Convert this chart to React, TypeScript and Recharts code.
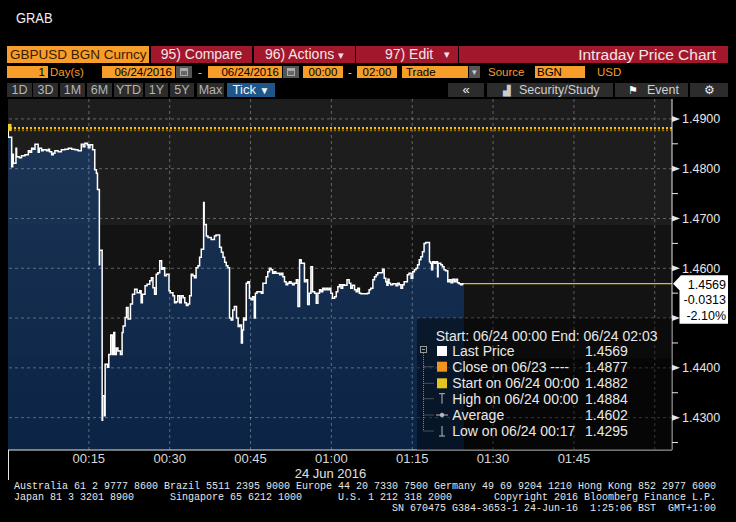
import React from "react";
import {
  ComposedChart,
  Area,
  XAxis,
  YAxis,
  CartesianGrid,
  ReferenceLine,
  ReferenceDot,
} from "recharts";

const FONT = "'Liberation Sans', Arial, Helvetica, sans-serif";
const MONO = "'Liberation Mono', 'DejaVu Sans Mono', monospace";

// GBPUSD ticks, minutes after 00:00 on 24 Jun 2016 (step data)
const tickMinutes = [
  0, 0.05, 0.68, 0.87, 0.99, 1.48, 1.6, 2.1, 2.5, 3.15,
  3.77, 4.07, 4.38, 4.69, 5.0, 5.6, 5.8, 6.24, 6.5, 7.16,
  7.5, 7.7, 8.1, 8.4, 8.7, 9.3, 9.9, 10.55, 11.2, 11.8,
  12.4, 13.0, 13.6, 13.95, 14.26, 14.7, 14.9, 15.2, 15.7, 16.1,
  16.4, 16.6, 16.95, 17.0, 17.47, 17.55, 17.9, 18.02, 18.46, 18.7,
  19.07, 19.38, 19.63, 19.8, 20.1, 20.4, 20.86, 21.17, 21.36, 21.73,
  21.98, 22.28, 22.72, 23.09, 23.5, 23.95, 24.44, 24.7, 24.93, 25.43,
  25.8, 26.3, 26.6, 26.9, 27.2, 27.5, 27.8, 28.15, 28.5, 28.77,
  29.07, 29.4, 29.87, 30.1, 30.6, 30.9, 31.2, 31.5, 31.85, 32.15,
  32.5, 32.8, 33.1, 33.4, 33.7, 34.0, 34.3, 34.6, 34.9, 35.25,
  35.55, 35.86, 36.3, 36.4, 36.8, 37.1, 37.7, 38.3, 38.6, 39.26,
  39.6, 39.9, 40.2, 40.5, 40.8, 41.1, 41.4, 41.7, 42.0, 42.4,
  42.7, 43.0, 43.3, 43.5, 43.7, 43.9, 44.2, 44.5, 44.8, 45.1,
  45.4, 45.7, 45.9, 46.2, 47.0, 47.3, 47.9, 48.2, 48.5, 48.8,
  49.1, 49.4, 49.7, 50.4, 50.7, 51.0, 51.3, 51.6, 51.9, 52.2,
  52.5, 52.8, 53.1, 53.5, 53.8, 54.1, 54.4, 55.0, 55.3, 55.6,
  55.9, 56.2, 56.5, 56.9, 57.2, 57.5, 57.8, 58.1, 58.4, 58.7,
  59.0, 59.3, 59.6, 59.9, 60.2, 60.6, 60.9, 61.2, 61.5, 61.8,
  62.1, 62.4, 62.9, 63.3, 63.6, 63.9, 64.3, 64.6, 64.9, 65.2,
  65.5, 66.7, 67.0, 67.3, 67.7, 68.0, 68.3, 68.6, 69.5, 69.8,
  70.1, 70.3, 70.5, 70.7, 71.0, 71.4, 72.0, 72.3, 72.6, 72.9,
  73.2, 73.5, 74.1, 74.4, 74.8, 75.1, 75.4, 75.7, 76.0, 76.3,
  76.6, 76.9, 77.2, 77.5, 78.2, 78.4, 78.6, 78.8, 79.1, 79.4,
  79.7, 79.8, 80.3, 80.6, 80.9, 81.2, 81.6, 81.9, 82.2, 82.5,
  82.8, 83.1, 83.4, 83.7, 84.0, 84.3, 84.6,
];

const tickPrices = [
  1.4882, 1.4863, 1.4804, 1.4829, 1.4811, 1.4841, 1.4824, 1.4822, 1.4826, 1.4828,
  1.4836, 1.4833, 1.4841, 1.4839, 1.4849, 1.4833, 1.4841, 1.4836, 1.4838, 1.4836,
  1.4839, 1.4834, 1.4828, 1.4831, 1.4836, 1.4834, 1.4838, 1.4839, 1.4841, 1.4839,
  1.4838, 1.4836, 1.4849, 1.4844, 1.4851, 1.4848, 1.4842, 1.4848, 1.4838, 1.4798,
  1.4791, 1.4758, 1.4607, 1.4636, 1.4295, 1.4344, 1.4304, 1.4407, 1.4401, 1.4427,
  1.4466, 1.4427, 1.4471, 1.4427, 1.444, 1.4434, 1.4427, 1.4471, 1.4484, 1.4501,
  1.4521, 1.4498, 1.4528, 1.4548, 1.4558, 1.4551, 1.4555, 1.4531, 1.4548, 1.4565,
  1.4568, 1.4575, 1.4581, 1.4561, 1.4548, 1.4588, 1.4591, 1.4615, 1.4598, 1.4601,
  1.4585, 1.4588, 1.4555, 1.4551, 1.4545, 1.4531, 1.4533, 1.4545, 1.4531, 1.4545,
  1.4541, 1.4531, 1.4525, 1.4528, 1.4545, 1.4588, 1.4585, 1.4581, 1.4601, 1.4605,
  1.4622, 1.4638, 1.4732, 1.4688, 1.4665, 1.4662, 1.4658, 1.4665, 1.4667, 1.4642,
  1.4632, 1.4622, 1.4612, 1.4605, 1.4601, 1.45, 1.4496, 1.4516, 1.4523, 1.45,
  1.4483, 1.4486, 1.445, 1.4476, 1.45, 1.4496, 1.457, 1.4573, 1.454, 1.4537,
  1.4543, 1.45, 1.455, 1.4553, 1.455, 1.457, 1.4583, 1.4593, 1.46, 1.4597,
  1.459, 1.4593, 1.459, 1.4587, 1.459, 1.4583, 1.4573, 1.4567, 1.457, 1.4573,
  1.457, 1.4567, 1.457, 1.4577, 1.4523, 1.4617, 1.461, 1.4573, 1.4577, 1.4527,
  1.455, 1.4603, 1.4553, 1.455, 1.453, 1.455, 1.4557, 1.4553, 1.456, 1.4557,
  1.456, 1.4557, 1.456, 1.455, 1.454, 1.4543, 1.4553, 1.4563, 1.4567, 1.456,
  1.4567, 1.4566, 1.4577, 1.457, 1.456, 1.4566, 1.4557, 1.4553, 1.456, 1.455,
  1.4549, 1.455, 1.4557, 1.456, 1.4577, 1.4583, 1.4587, 1.4591, 1.4598, 1.458,
  1.4573, 1.4566, 1.4578, 1.457, 1.4567, 1.4569, 1.4565, 1.457, 1.4567, 1.456,
  1.4567, 1.4573, 1.4587, 1.459, 1.458, 1.4593, 1.4597, 1.46, 1.4607, 1.4617,
  1.4623, 1.4633, 1.465, 1.4652, 1.4613, 1.461, 1.4597, 1.4613, 1.461, 1.4613,
  1.4583, 1.461, 1.4607, 1.4603, 1.4597, 1.4595, 1.4573, 1.4577, 1.4571, 1.4578,
  1.4573, 1.4578, 1.4571, 1.4569, 1.4567, 1.4569, 1.4569,
];

const startPrice = 1.4882;
const prevClose = 1.4877;
const lastPrice = 1.4569;
const lastChange = "-0.0313";
const lastChangePct = "-2.10%";
const lastTickMinute = 84.6;
const sessionEnd = 123.2;

const timeTicks = [15, 30, 45, 60, 75, 90, 105, 120];
const timeLabels = ["00:15", "00:30", "00:45", "01:00", "01:15", "01:30", "01:45", ""];
const priceTicks = [
  1.425, 1.43, 1.435, 1.44, 1.445, 1.45, 1.455, 1.46, 1.465, 1.47, 1.475, 1.48, 1.485, 1.49,
];
const gridPrices = [1.43, 1.44, 1.45, 1.46, 1.47, 1.48, 1.49];

const legendLabels = [
  "Last Price",
  "Close on 06/23",
  "Start on 06/24 00:00",
  "High on 06/24 00:00",
  "Average",
  "Low on 06/24 00:17",
];
const legendValues = [1.4569, 1.4877, 1.4882, 1.4884, 1.4602, 1.4295];

const footerLines = [
  "Australia 61 2 9777 8600 Brazil 5511 2395 9000 Europe 44 20 7330 7500 Germany 49 69 9204 1210 Hong Kong 852 2977 6000",
  "Japan 81 3 3201 8900      Singapore 65 6212 1000      U.S. 1 212 318 2000       Copyright 2016 Bloomberg Finance L.P.",
  "                                                               SN 670475 G384-3653-1 24-Jun-16  1:25:06 BST  GMT+1:00",
];

const series = tickMinutes.map((m, i) => ({ m, p: tickPrices[i] }));

const ORANGE = "#f79d2a";
const RED = "#a3172c";
const GRID = "rgba(200,200,200,0.42)";

function PriceTick(props: any) {
  const { x, y, payload } = props;
  const v = Math.round(payload.value * 10000);
  if (v % 100 !== 0) {
    return <line x1={x} x2={x + 6} y1={y} y2={y} stroke="#e6e6e6" strokeWidth={1} />;
  }
  return (
    <g>
      <polygon points={`${x},${y - 3} ${x + 8},${y} ${x},${y + 3}`} fill="#e6e6e6" />
      {v !== 14500 && (
        <text x={x + 10} y={y} dy="0.36em" fill="#e6e6e6" fontSize={12.5} fontFamily={FONT}>
          {(v / 10000).toFixed(4)}
        </text>
      )}
    </g>
  );
}

function LastTag(props: any) {
  const vb = props.viewBox || {};
  const x = (vb.x ?? 0) + (vb.width ?? 0);
  const y = vb.y ?? 0;
  const pts = [
    [x + 1, y],
    [x + 9, y - 8.5],
    [x + 56, y - 8.5],
    [x + 56, y + 40],
    [x + 7.5, y + 40],
    [x + 7.5, y + 6.5],
  ]
    .map((p) => p.join(","))
    .join(" ");
  const t = { textAnchor: "end" as const, fill: "#000", fontSize: 12.5, fontFamily: FONT };
  return (
    <g>
      <polygon points={pts} fill="#ffffff" />
      <text x={x + 54} y={y + 5.3} {...t}>
        {lastPrice.toFixed(4)}
      </text>
      <text x={x + 54} y={y + 20.3} {...t}>
        {lastChange}
      </text>
      <text x={x + 54} y={y + 36} {...t}>
        {lastChangePct}
      </text>
    </g>
  );
}

function PriceChart() {
  return (
    <ComposedChart
      width={736}
      height={522}
      data={series}
      margin={{ top: 99, right: 0, bottom: 47, left: 8 }}
      style={{ position: "absolute", left: 0, top: 0 }}
    >
      <defs>
        <linearGradient id="plotBg" x1="0" y1="0" x2="0" y2="1">
          <stop offset="0" stopColor="#1d1d1d" />
          <stop offset="0.359" stopColor="#1d1d1d" />
          <stop offset="0.359" stopColor="#131313" />
          <stop offset="0.738" stopColor="#131313" />
          <stop offset="0.738" stopColor="#0b0b0b" />
          <stop offset="1" stopColor="#0b0b0b" />
        </linearGradient>
        <linearGradient id="areaFill" x1="0" y1="0" x2="0" y2="1">
          <stop offset="0" stopColor="#1c385e" />
          <stop offset="1" stopColor="#0b284f" />
        </linearGradient>
      </defs>
      <CartesianGrid horizontal={false} vertical={false} fill="url(#plotBg)" />
      <XAxis
        dataKey="m"
        type="number"
        domain={[0, sessionEnd]}
        ticks={timeTicks}
        interval={0}
        allowDataOverflow
        tickFormatter={(v: number) => timeLabels[timeTicks.indexOf(v)] ?? ""}
        axisLine={{ stroke: "#e6e6e6" }}
        tickLine={false}
        tickSize={0}
        tickMargin={4}
        height={25}
        tick={{ fill: "#d8d8d8", fontSize: 13, fontFamily: FONT }}
      />
      <YAxis
        orientation="right"
        type="number"
        domain={[1.4235, 1.494]}
        ticks={priceTicks}
        interval={0}
        allowDataOverflow
        width={64}
        axisLine={{ stroke: "#e6e6e6" }}
        tickLine={false}
        tickSize={0}
        tickMargin={0}
        tick={(p: any) => <PriceTick {...p} />}
      />
      <Area
        type="stepAfter"
        dataKey="p"
        stroke="#ffffff"
        strokeWidth={1.5}
        fill="url(#areaFill)"
        fillOpacity={0.86}
        dot={false}
        activeDot={false}
        isAnimationActive={false}
      />
      {gridPrices.map((v) => (
        <ReferenceLine key={`gy${v}`} y={v} stroke={GRID} strokeDasharray="3 3" />
      ))}
      {timeTicks.map((v) => (
        <ReferenceLine key={`gx${v}`} x={v} stroke={GRID} strokeDasharray="3 3" />
      ))}
      <ReferenceLine y={prevClose} stroke="#a0601a" strokeWidth={2} strokeDasharray="2 2" />
      <ReferenceLine y={startPrice} stroke="#e6c31d" strokeWidth={2} strokeDasharray="2 2" />
      <ReferenceDot
        x={0}
        y={startPrice}
        r={3}
        isFront
        shape={(p: any) => (
          <rect x={p.cx} y={p.cy - 4} width={3.5} height={7} fill="#f0d028" />
        )}
      />
      <ReferenceLine
        segment={[
          { x: lastTickMinute, y: lastPrice },
          { x: sessionEnd, y: lastPrice },
        ]}
        stroke="#f0b825"
        strokeWidth={1.3}
        label={<LastTag />}
      />
    </ComposedChart>
  );
}

function Chip(props: {
  l: number;
  t: number;
  w: number;
  h: number;
  bg?: string;
  color?: string;
  size?: number;
  align?: "left" | "right" | "center";
  pad?: number;
  children?: React.ReactNode;
}) {
  const { l, t, w, h, bg = "transparent", color = "#fff", size = 13, align = "center", pad = 0 } = props;
  return (
    <div
      style={{
        position: "absolute",
        left: l,
        top: t,
        width: w,
        height: h,
        background: bg,
        color,
        fontSize: size,
        lineHeight: `${h}px`,
        textAlign: align,
        padding: `0 ${pad}px`,
        boxSizing: "border-box",
        whiteSpace: "nowrap",
        fontFamily: FONT,
      }}
    >
      {props.children}
    </div>
  );
}

function CalIcon({ l, t }: { l: number; t: number }) {
  return (
    <div style={{ position: "absolute", left: l, top: t, width: 16, height: 12, background: "#555" }}>
      <div style={{ position: "absolute", left: 4, top: 2, width: 8, height: 8, background: "#aaa" }} />
      <div style={{ position: "absolute", left: 5, top: 5, width: 6, height: 4, background: "#666" }} />
    </div>
  );
}

function Toolbar() {
  const r1 = 46;
  const r2 = 66;
  const r3 = 83;
  const h2 = 12;
  const btn = "#2c2c2c";
  const btnText = "#b4b4b4";
  return (
    <>
      <div
        style={{
          position: "absolute",
          left: 16,
          top: 10,
          fontSize: 15,
          lineHeight: "16px",
          color: "#f0f0f0",
          fontFamily: FONT,
          transform: "scaleX(0.86)",
          transformOrigin: "left",
        }}
      >
        GRAB
      </div>

      <Chip l={7} t={r1} w={142} h={17} bg={ORANGE} color="#3a1a00" size={13.5} align="left" pad={3}>
        GBPUSD BGN Curncy
      </Chip>
      <Chip l={151} t={r1} w={101} h={17} bg={RED} color="#f2e6e6" size={14}>
        95) Compare
      </Chip>
      <Chip l={254} t={r1} w={101} h={17} bg={RED} color="#f2e6e6" size={14}>
        96) Actions <span style={{ fontSize: 11 }}>▾</span>
      </Chip>
      <Chip l={356} t={r1} w={102} h={17} bg={RED} color="#f2e6e6" size={14} align="left" pad={29}>
        97) Edit
      </Chip>
      <Chip l={440} t={r1} w={14} h={17} color="#f2e6e6" size={11}>
        ▾
      </Chip>
      <Chip l={459} t={r1} w={269} h={17} bg={RED} color="#f2e6e6" size={15.5} align="right" pad={12}>
        Intraday Price Chart
      </Chip>

      <Chip l={7} t={r2} w={41} h={h2} bg={ORANGE} color="#000" size={11.5} align="right" pad={3}>
        1
      </Chip>
      <Chip l={50} t={r2} w={44} h={h2} color={ORANGE} size={11.5} align="left">
        Day(s)
      </Chip>
      <Chip l={102} t={r2} w={73} h={h2} bg={ORANGE} color="#000" size={11.5} align="right" pad={3}>
        06/24/2016
      </Chip>
      <CalIcon l={176} t={r2} />
      <Chip l={194} t={r2} w={12} h={h2} color="#ddd" size={11.5}>
        -
      </Chip>
      <Chip l={208} t={r2} w={74} h={h2} bg={ORANGE} color="#000" size={11.5} align="right" pad={3}>
        06/24/2016
      </Chip>
      <CalIcon l={283} t={r2} />
      <Chip l={303} t={r2} w={40} h={h2} bg={ORANGE} color="#000" size={11.5}>
        00:00
      </Chip>
      <Chip l={344} t={r2} w={12} h={h2} color="#ddd" size={11.5}>
        -
      </Chip>
      <Chip l={357} t={r2} w={40} h={h2} bg={ORANGE} color="#000" size={11.5}>
        02:00
      </Chip>
      <Chip l={402} t={r2} w={66} h={h2} bg={ORANGE} color="#000" size={11.5} align="left" pad={4}>
        Trade
      </Chip>
      <Chip l={469} t={r2} w={11} h={h2} bg="#555" color="#ccc" size={9}>
        ▾
      </Chip>
      <Chip l={488} t={r2} w={40} h={h2} color={ORANGE} size={11.5} align="left">
        Source
      </Chip>
      <Chip l={535} t={r2} w={50} h={h2} bg={ORANGE} color="#000" size={11.5} align="left" pad={2}>
        BGN
      </Chip>
      <Chip l={597} t={r2} w={30} h={h2} color={ORANGE} size={11.5} align="left">
        USD
      </Chip>

      {[
        ["1D", 7, 25],
        ["3D", 33, 25],
        ["1M", 60, 25],
        ["6M", 87, 25],
        ["YTD", 114, 29],
        ["1Y", 145, 23],
        ["5Y", 170, 24],
        ["Max", 197, 27],
      ].map(([txt, l, w]) => (
        <Chip key={txt as string} l={l as number} t={r3} w={w as number} h={14} bg={btn} color={btnText} size={12.5}>
          {txt}
        </Chip>
      ))}
      <Chip l={227} t={r3} w={48} h={14} bg="#1f5689" color="#f4f4f4" size={13}>
        Tick <span style={{ fontSize: 10 }}>▼</span>
      </Chip>
      <Chip l={448} t={r3} w={36} h={14} bg={btn} color="#eee" size={13}>
        «
      </Chip>
      <Chip l={487} t={r3} w={126} h={14} bg={btn} color="#d0d0d0" size={12.5} align="left" pad={16}>
        <span style={{ fontSize: 10, color: "#ccc", marginRight: 8 }}>▟</span>Security/Study
      </Chip>
      <Chip l={615} t={r3} w={73} h={14} bg={btn} color="#d0d0d0" size={12.5} align="left" pad={13}>
        <span style={{ fontSize: 11, color: "#fff", marginRight: 9 }}>⚑</span>Event
      </Chip>
      <Chip l={690} t={r3} w={38} h={14} bg={btn} color="#e6e6e6" size={12}>
        ⚙
      </Chip>
    </>
  );
}

function InfoPanel() {
  const rows = [33, 48.7, 65.3, 80.7, 97, 113];
  const txt = { fill: "#e8e8e8", fontSize: 14, fontFamily: FONT };
  const icon = (i: number, cy: number) => {
    if (i === 0) return <rect x={20} y={cy - 5} width={10} height={10} fill="#ffffff" />;
    if (i === 1) return <rect x={20} y={cy - 5} width={10} height={10} fill="#f0961e" />;
    if (i === 2) return <rect x={20} y={cy - 5} width={10} height={10} fill="#e6c31d" />;
    if (i === 3)
      return (
        <g stroke="#bbb" strokeWidth={1}>
          <line x1={25} x2={25} y1={cy - 5} y2={cy + 5} />
          <line x1={22} x2={28} y1={cy - 5} y2={cy - 5} />
        </g>
      );
    if (i === 4)
      return (
        <g stroke="#bbb" strokeWidth={1}>
          <line x1={19} x2={31} y1={cy} y2={cy} />
          <circle cx={25} cy={cy} r={1.8} fill="#bbb" />
        </g>
      );
    return (
      <g stroke="#bbb" strokeWidth={1}>
        <line x1={25} x2={25} y1={cy - 5} y2={cy + 5} />
        <line x1={22} x2={28} y1={cy + 5} y2={cy + 5} />
      </g>
    );
  };
  return (
    <svg
      width={255}
      height={132}
      style={{ position: "absolute", left: 417, top: 318 }}
    >
      <rect width={255} height={132} fill="rgba(0,0,0,0.42)" />
      <text x={18.7} y={22.8} {...txt}>
        Start: 06/24 00:00 End: 06/24 02:03
      </text>
      <rect x={3.5} y={28.5} width={6} height={6} fill="none" stroke="#999" />
      <line x1={5} x2={8} y1={31.5} y2={31.5} stroke="#999" />
      <line x1={6.5} x2={6.5} y1={35} y2={113} stroke="#888" strokeDasharray="1 1" />
      {rows.slice(1).map((cy) => (
        <line key={cy} x1={6.5} x2={17} y1={cy} y2={cy} stroke="#888" strokeDasharray="1 1" />
      ))}
      {legendLabels.map((lab, i) => (
        <g key={lab}>
          {icon(i, rows[i])}
          <text x={35.3} y={rows[i] + 5} {...txt}>
            {lab}
            {i === 1 ? " ----" : ""}
          </text>
          <text x={168} y={rows[i] + 5} {...txt}>
            {legendValues[i].toFixed(4)}
          </text>
        </g>
      ))}
    </svg>
  );
}

export default function App() {
  return (
    <div
      style={{
        position: "fixed",
        left: 0,
        top: 0,
        width: 736,
        height: 522,
        background: "#000",
        overflow: "hidden",
        fontFamily: FONT,
      }}
    >
      <Toolbar />
      <PriceChart />
      <InfoPanel />
      <div style={{ position: "absolute", left: 8, top: 450, width: 1, height: 30, background: "#e6e6e6" }} />
      <div
        style={{
          position: "absolute",
          left: 0,
          width: 661,
          top: 466,
          textAlign: "center",
          fontSize: 13,
          lineHeight: "15px",
          color: "#e0e0e0",
          fontFamily: FONT,
        }}
      >
        24 Jun 2016
      </div>
      <div
        style={{
          position: "absolute",
          left: 14,
          top: 481,
          fontFamily: MONO,
          fontSize: 10,
          lineHeight: "11px",
          color: "#e6e6e6",
          whiteSpace: "pre",
        }}
      >
        {footerLines.join("\n")}
      </div>
    </div>
  );
}
